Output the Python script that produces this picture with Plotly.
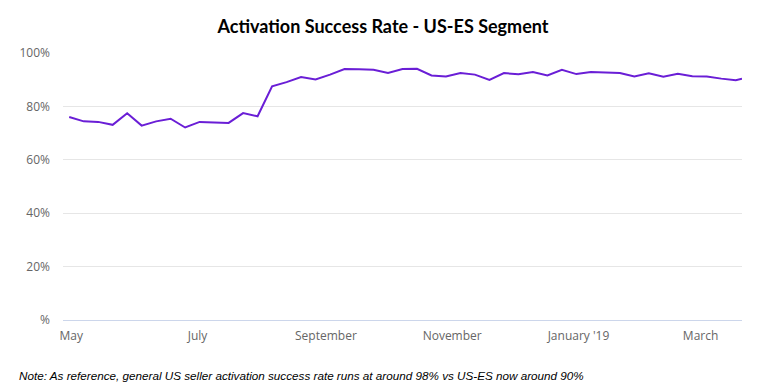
import plotly.graph_objects as go
import pandas as pd

# Weekly dates (Mondays) plus a final partial-week point
week_dates = list(pd.date_range("2018-04-30", periods=47, freq="7D").strftime("%Y-%m-%d")) + ["2019-03-21"]

success_rate = [
    76.0, 74.4, 74.2, 73.1, 77.4, 72.8, 74.4, 75.4, 72.1, 74.2,
    74.0, 73.8, 77.5, 76.3, 87.5, 89.1, 91.0, 90.1, 91.9, 94.0,
    93.9, 93.7, 92.5, 94.0, 94.1, 91.6, 91.2, 92.5, 91.9, 89.9,
    92.5, 92.0, 92.9, 91.6, 93.7, 92.1, 92.9, 92.8, 92.5, 91.2,
    92.4, 91.1, 92.2, 91.3, 91.2, 90.4, 89.8, 90.4,
]

x_tick_vals = ["2018-05-01", "2018-07-01", "2018-09-01", "2018-11-01", "2019-01-01", "2019-03-01"]
x_tick_text = ["May", "July", "September", "November", "January '19", "March"]

y_tick_vals = [0, 20, 40, 60, 80, 100]
y_tick_text = ["%", "20%", "40%", "60%", "80%", "100%"]

title_text = "Activation Success Rate - US-ES Segment"
note_text = "Note: As reference, general US seller activation success rate runs at around 98% vs US-ES now around 90%"

fig = go.Figure()
fig.add_trace(go.Scatter(
    x=week_dates, y=success_rate, mode="lines",
    line=dict(color="#6a1ed6", width=2),
    hoverinfo="x+y", showlegend=False,
))

W, H = 751, 384
fig.update_layout(
    width=W, height=H,
    margin=dict(l=55, r=17, t=45, b=72),
    paper_bgcolor="white", plot_bgcolor="white",
    title=dict(text="<b>" + title_text + "</b>", x=(383 - 8) / W, xanchor="center",
               y=1 - 19 / H, yanchor="middle",
               font=dict(family="Lato", size=18, color="#000000", weight=900)),
    font=dict(family="Open Sans", color="#666666", size=12),
    xaxis=dict(
        type="date", range=["2018-04-27", "2019-03-21"],
        tickvals=x_tick_vals, ticktext=x_tick_text,
        showgrid=False, zeroline=False,
        showline=True, linecolor="#ccd6eb", linewidth=1,
        ticks="", ticklabelstandoff=5,
        tickfont=dict(family="Open Sans", size=12, color="#666666"),
    ),
    yaxis=dict(
        range=[0, 100], tickvals=y_tick_vals, ticktext=y_tick_text,
        showgrid=True, gridcolor="#e6e6e6", gridwidth=1, zeroline=False,
        ticks="", ticklabelstandoff=12,
        tickfont=dict(family="Open Sans", size=12, color="#666666"),
    ),
    annotations=[dict(
        text="<i>" + note_text + "</i>", xref="paper", yref="paper",
        x=(9 - 55) / 679, y=-55 / 267, xanchor="left", yanchor="middle",
        showarrow=False,
        font=dict(family="Liberation Sans", size=11.7, color="#000000"),
    )],
)

fig.write_html("out.html")
